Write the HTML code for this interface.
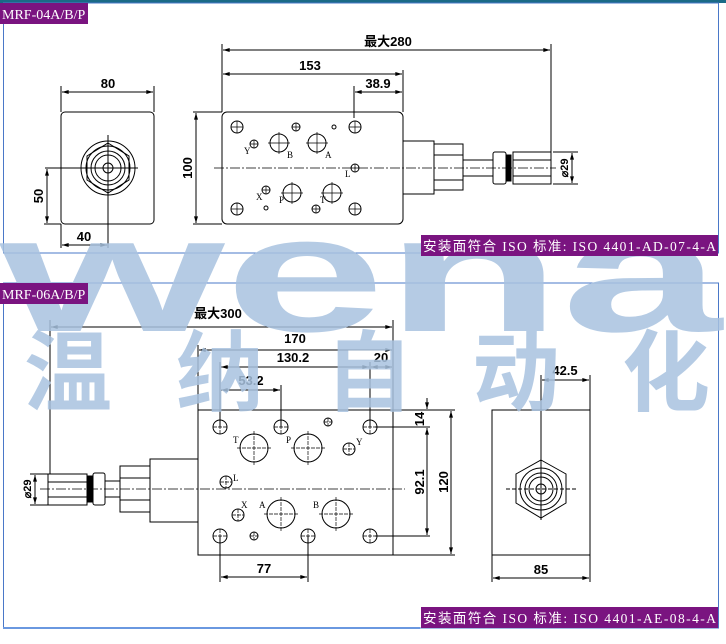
<!DOCTYPE html>
<html><head><meta charset="utf-8"><style>
html,body{margin:0;padding:0;background:#fff;}
svg{display:block;}
.s{font-family:"Liberation Serif","Noto Serif CJK SC",serif;}
.b{font-family:"Liberation Sans","Noto Sans CJK SC",sans-serif;font-weight:bold;}
.w{font-family:"Liberation Sans",sans-serif;font-weight:bold;}
.c{font-family:"Noto Sans CJK SC",sans-serif;font-weight:bold;}
.l{font-family:"Liberation Serif","Noto Sans CJK SC",serif;}
</style></head><body>
<svg width="726" height="644" viewBox="0 0 726 644" xmlns="http://www.w3.org/2000/svg">
<defs>
<marker id="a" viewBox="0 0 10 6" refX="10" refY="3" markerWidth="8" markerHeight="4" orient="auto-start-reverse"><path d="M0,0L10,3L0,6z" fill="#000"/></marker>
</defs>
<rect x="0" y="0" width="726" height="3" fill="#1a6a86"/>
<rect x="3.5" y="3" width="715" height="250" fill="none" stroke="#4a78c8" stroke-width="1"/>
<rect x="3.5" y="283" width="715" height="345" fill="none" stroke="#4a78c8" stroke-width="1"/>
<line x1="3" y1="628" x2="420" y2="628" stroke="#6a98e0" stroke-width="2"/>

<g stroke="#000" stroke-width="1" fill="none">
<rect x="61" y="112" width="93" height="112" rx="4"/>
<circle cx="108" cy="168" r="27"/><circle cx="108" cy="168" r="22"/>
<polygon points="108,143 129,156 129,180 108,193 87,180 87,156"/>
<circle cx="108" cy="168" r="17"/><circle cx="108" cy="168" r="13"/><circle cx="108" cy="168" r="5"/>
<line x1="45" y1="168" x2="138" y2="168"/><line x1="108" y1="135" x2="108" y2="248"/>
<line x1="61" y1="86" x2="61" y2="112"/><line x1="154" y1="86" x2="154" y2="112"/>
<line x1="62" y1="92" x2="153" y2="92" marker-start="url(#a)" marker-end="url(#a)"/>
<line x1="44" y1="224" x2="61" y2="224"/>
<line x1="47" y1="169" x2="47" y2="223" marker-start="url(#a)" marker-end="url(#a)"/>
<line x1="61" y1="224" x2="61" y2="248"/>
<line x1="62" y1="245" x2="107" y2="245" marker-start="url(#a)" marker-end="url(#a)"/>
<rect x="222" y="112" width="181" height="112" rx="5"/>
<line x1="193" y1="112" x2="222" y2="112"/><line x1="193" y1="224" x2="222" y2="224"/>
<line x1="196" y1="113" x2="196" y2="223" marker-start="url(#a)" marker-end="url(#a)"/>
<line x1="214" y1="168" x2="556" y2="168" stroke-dasharray="10,2,2,2" stroke-width="0.7"/>
<rect x="403" y="141" width="31" height="53"/>
<rect x="434" y="144" width="29" height="46"/><line x1="434" y1="155" x2="463" y2="155"/><line x1="434" y1="180" x2="463" y2="180"/>
<line x1="463" y1="160" x2="493" y2="160"/><line x1="463" y1="176" x2="493" y2="176"/>
<rect x="493" y="152" width="13" height="32" rx="2"/>
<rect x="506" y="155" width="5" height="26" fill="#000"/>
<rect x="513" y="152" width="38" height="32"/><line x1="513" y1="160" x2="551" y2="160"/><line x1="513" y1="176" x2="551" y2="176"/>
<line x1="553" y1="152" x2="578" y2="152"/><line x1="553" y1="184" x2="578" y2="184"/>
<line x1="572" y1="153" x2="572" y2="183" marker-start="url(#a)" marker-end="url(#a)"/>
<line x1="222" y1="44" x2="222" y2="112"/><line x1="551" y1="44" x2="551" y2="152"/>
<line x1="223" y1="50" x2="550" y2="50" marker-start="url(#a)" marker-end="url(#a)"/>
<line x1="223" y1="74" x2="402" y2="74" marker-start="url(#a)" marker-end="url(#a)"/>
<line x1="403" y1="70" x2="403" y2="112"/><line x1="354" y1="86" x2="354" y2="118"/>
<line x1="355" y1="92" x2="402" y2="92" marker-start="url(#a)" marker-end="url(#a)"/>
<circle cx="237" cy="127" r="6"/><circle cx="237" cy="209" r="6"/><circle cx="355" cy="127" r="6"/><circle cx="355" cy="209" r="6"/>
<circle cx="279" cy="143" r="9"/><circle cx="317" cy="143" r="9"/><circle cx="292" cy="193" r="9"/><circle cx="332" cy="193" r="9"/>
<circle cx="296" cy="127" r="4"/><circle cx="334" cy="127" r="2"/><circle cx="254" cy="144" r="4"/><circle cx="266" cy="190" r="4"/><circle cx="266" cy="208" r="2"/><circle cx="316" cy="209" r="4"/><circle cx="355" cy="168" r="4"/>
<path d="M231,127h12M237,121v12M231,209h12M237,203v12M349,127h12M355,121v12M349,209h12M355,203v12M268,143h22M279,132v22M306,143h22M317,132v22M281,193h22M292,182v22M321,193h22M332,182v22M292,127h8M296,123v8M250,144h8M254,140v8M262,190h8M266,186v8M312,209h8M316,205v8M351,168h8M355,164v8" stroke-width="0.7"/>

<rect x="198" y="410" width="195" height="145"/>
<line x1="393" y1="410" x2="455" y2="410"/><line x1="393" y1="555" x2="455" y2="555"/>
<line x1="375" y1="427" x2="430" y2="427"/><line x1="375" y1="536" x2="430" y2="536"/>
<line x1="427" y1="398" x2="427" y2="409" marker-end="url(#a)"/>
<line x1="427" y1="428" x2="427" y2="535" marker-start="url(#a)" marker-end="url(#a)"/>
<line x1="451" y1="411" x2="451" y2="554" marker-start="url(#a)" marker-end="url(#a)"/>
<line x1="40" y1="489" x2="405" y2="489" stroke-dasharray="10,2,2,2" stroke-width="0.7"/>
<rect x="150" y="459" width="48" height="63"/>
<rect x="120" y="466" width="30" height="46"/><line x1="120" y1="478" x2="150" y2="478"/><line x1="120" y1="500" x2="150" y2="500"/>
<line x1="105" y1="481" x2="120" y2="481"/><line x1="105" y1="497" x2="120" y2="497"/>
<rect x="93" y="473" width="12" height="32" rx="2"/>
<rect x="87" y="476" width="5" height="26" fill="#000"/>
<rect x="48" y="474" width="39" height="31"/><line x1="48" y1="482" x2="87" y2="482"/><line x1="48" y1="497" x2="87" y2="497"/>
<line x1="30" y1="474" x2="48" y2="474"/><line x1="30" y1="505" x2="48" y2="505"/>
<line x1="35" y1="475" x2="35" y2="504" marker-start="url(#a)" marker-end="url(#a)"/>
<line x1="50" y1="320" x2="50" y2="474"/><line x1="393" y1="320" x2="393" y2="410"/>
<line x1="51" y1="327" x2="392" y2="327" marker-start="url(#a)" marker-end="url(#a)"/>
<line x1="198" y1="345" x2="198" y2="410"/>
<line x1="199" y1="350" x2="392" y2="350" marker-start="url(#a)" marker-end="url(#a)"/>
<line x1="220" y1="362" x2="220" y2="427"/><line x1="370" y1="362" x2="370" y2="427"/>
<line x1="221" y1="367" x2="369" y2="367" marker-start="url(#a)" marker-end="url(#a)"/>
<line x1="371" y1="367" x2="392" y2="367" marker-start="url(#a)" marker-end="url(#a)"/>
<line x1="281" y1="385" x2="281" y2="427"/>
<line x1="221" y1="390" x2="280" y2="390" marker-start="url(#a)" marker-end="url(#a)"/>
<line x1="220" y1="536" x2="220" y2="582"/><line x1="308" y1="536" x2="308" y2="582"/>
<line x1="221" y1="577" x2="307" y2="577" marker-start="url(#a)" marker-end="url(#a)"/>
<circle cx="220" cy="427" r="7"/><circle cx="281" cy="427" r="7"/><circle cx="370" cy="427" r="7"/>
<circle cx="220" cy="536" r="7"/><circle cx="308" cy="536" r="7"/><circle cx="370" cy="536" r="7"/>
<circle cx="254" cy="448" r="14"/><circle cx="308" cy="448" r="14"/><circle cx="281" cy="514" r="14"/><circle cx="336" cy="514" r="14"/>
<circle cx="328" cy="422" r="4"/><circle cx="349" cy="449" r="6"/><circle cx="226" cy="482" r="6"/><circle cx="238" cy="515" r="6"/><circle cx="254" cy="536" r="4"/>
<path d="M213,427h14M220,420v14M274,427h14M281,420v14M363,427h14M370,420v14M213,536h14M220,529v14M301,536h14M308,529v14M363,536h14M370,529v14M237,448h34M254,431v34M291,448h34M308,431v34M264,514h34M281,497v34M319,514h34M336,497v34M324,422h8M328,418v8M343,449h12M349,443v12M220,482h12M226,476v12M232,515h12M238,509v12M250,536h8M254,532v8" stroke-width="0.7" stroke-dasharray="4,1"/>
<rect x="492" y="410" width="98" height="145"/>
<line x1="541" y1="375" x2="541" y2="520"/><line x1="590" y1="375" x2="590" y2="410"/>
<line x1="542" y1="380" x2="589" y2="380" marker-start="url(#a)" marker-end="url(#a)"/>
<line x1="492" y1="555" x2="492" y2="582"/><line x1="590" y1="555" x2="590" y2="582"/>
<line x1="493" y1="578" x2="589" y2="578" marker-start="url(#a)" marker-end="url(#a)"/>
<polygon points="541,460 566,474 566,503 541,518 516,503 516,474"/>
<circle cx="541" cy="489" r="21"/><circle cx="541" cy="489" r="16"/><circle cx="541" cy="489" r="12"/><circle cx="541" cy="489" r="5"/>
<line x1="506" y1="489" x2="576" y2="489" stroke-dasharray="4,2"/>
</g>

<g font-size="13" fill="#000" class="b">
<text x="108" y="88" text-anchor="middle">80</text>
<text x="84" y="241" text-anchor="middle">40</text>
<text transform="translate(43,196) rotate(-90)" text-anchor="middle">50</text>
<text transform="translate(192,168) rotate(-90)" text-anchor="middle">100</text>
<text x="388" y="46" text-anchor="middle">最大280</text>
<text x="310" y="70" text-anchor="middle">153</text>
<text x="378" y="88" text-anchor="middle">38.9</text>
<text transform="translate(568,168) rotate(-90)" text-anchor="middle" font-size="11">⌀29</text>
<text x="218" y="318" text-anchor="middle">最大300</text>
<text x="295" y="343" text-anchor="middle">170</text>
<text x="293" y="362" text-anchor="middle">130.2</text>
<text x="381" y="362" text-anchor="middle">20</text>
<text x="251" y="385" text-anchor="middle">53.2</text>
<text x="565" y="375" text-anchor="middle">42.5</text>
<text x="264" y="573" text-anchor="middle">77</text>
<text x="541" y="574" text-anchor="middle">85</text>
<text transform="translate(424,419) rotate(-90)" text-anchor="middle">14</text>
<text transform="translate(424,482) rotate(-90)" text-anchor="middle">92.1</text>
<text transform="translate(448,482) rotate(-90)" text-anchor="middle">120</text>
<text transform="translate(31,489) rotate(-90)" text-anchor="middle" font-size="11">⌀29</text>
</g>
<g font-size="9" class="s">
<text x="244" y="154">Y</text><text x="287" y="158">B</text><text x="325" y="158">A</text><text x="345" y="177">L</text><text x="256" y="200">X</text><text x="279" y="203">P</text><text x="320" y="203">T</text>
<text x="233" y="443">T</text><text x="286" y="443">P</text><text x="356" y="445">Y</text><text x="233" y="481">L</text><text x="241" y="508">X</text><text x="259" y="508">A</text><text x="313" y="508">B</text></g>

<g fill="#a9c3e0" opacity="0.85">
<text x="0" y="331" class="w" font-size="166" textLength="722" lengthAdjust="spacingAndGlyphs">wena</text>
<g class="c" font-size="88">
<text x="24" y="404">温</text><text x="176" y="404">纳</text><text x="325" y="404">自</text><text x="472" y="404">动</text><text x="622" y="404">化</text>
</g>
</g>

<rect x="0" y="3" width="88" height="21" fill="#7a1480"/>
<text x="2" y="19" fill="#fff" font-size="14" class="l">MRF-04A/B/P</text>
<rect x="0" y="283" width="88" height="21" fill="#7a1480"/>
<text x="2" y="299" fill="#fff" font-size="14" class="l">MRF-06A/B/P</text>
<rect x="421" y="235" width="297" height="21" fill="#7a1480"/>
<text x="423" y="251" fill="#fff" font-size="13.5" textLength="293" class="l">安装面符合 ISO 标准: ISO 4401-AD-07-4-A</text>
<rect x="421" y="607" width="297" height="21" fill="#7a1480"/>
<text x="423" y="623" fill="#fff" font-size="13.5" textLength="293" class="l">安装面符合 ISO 标准: ISO 4401-AE-08-4-A</text>
</svg>
</body></html>
